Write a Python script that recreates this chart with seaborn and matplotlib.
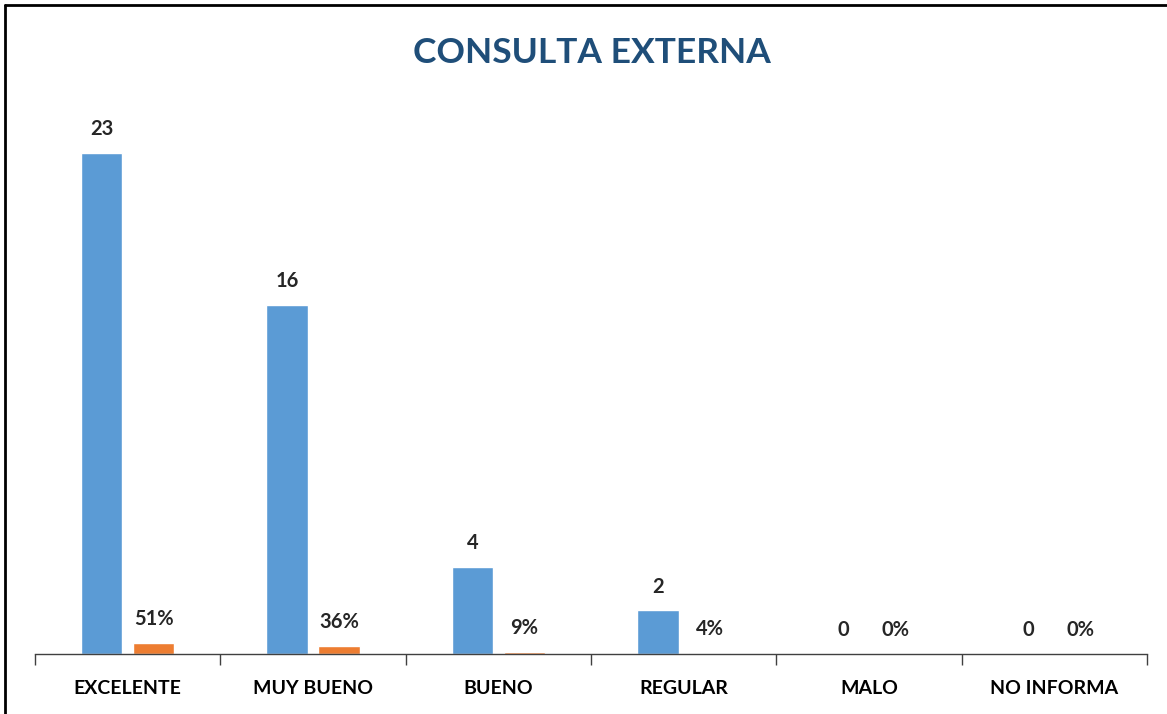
import matplotlib
matplotlib.use("Agg")
import matplotlib.pyplot as plt
import seaborn as sns
import pandas as pd
from matplotlib.lines import Line2D

categories = ["EXCELENTE", "MUY BUENO", "BUENO", "REGULAR", "MALO", "NO INFORMA"]
counts = [23, 16, 4, 2, 0, 0]
fractions = [0.51, 0.36, 0.09, 0.04, 0.0, 0.0]
count_labels = ["23", "16", "4", "2", "0", "0"]
pct_labels = ["51%", "36%", "9%", "4%", "0%", "0%"]
title = "CONSULTA EXTERNA"

sns.set_theme(style="white")
plt.rcParams['font.family'] = ['Lato', 'DejaVu Sans']

df = pd.DataFrame({
    "cat": categories * 2,
    "val": counts + fractions,
    "serie": ["Cantidad"] * len(categories) + ["Porcentaje"] * len(categories),
})

fig = plt.figure(figsize=(11.67, 7.14), dpi=100)
ax = fig.add_axes([0.030, 0.084, 0.953, 0.763])
sns.barplot(data=df, x="cat", y="val", hue="serie", order=categories,
            palette=["#5B9BD5", "#ED7D31"], width=0.56, gap=0.2,
            legend=False, ax=ax, saturation=1)

ax.set_ylim(0, 25)
ax.set_xlim(-0.5, len(categories) - 0.5)
ax.set_xlabel("")
ax.set_ylabel("")
ax.set_yticks([])
for s in ["top", "right", "left"]:
    ax.spines[s].set_visible(False)
ax.spines["bottom"].set_color("#404040")
ax.spines["bottom"].set_linewidth(1.0)

ax.set_xticks(range(len(categories)))
ax.set_xticklabels(categories, fontsize=14, fontweight="bold", color="black")
ax.tick_params(axis="x", which="major", length=0, pad=19)
ax.set_xticks([i - 0.5 for i in range(len(categories) + 1)], minor=True)
ax.tick_params(axis="x", which="minor", bottom=True, length=8, width=1.0,
               color="#404040", direction="out")

containers = ax.containers
ax.bar_label(containers[0], labels=count_labels, padding=10, fontsize=14.5, fontweight="bold")
ax.bar_label(containers[1], labels=pct_labels, padding=10, fontsize=14.5, fontweight="bold")

fig.text(0.507, 0.926, title, ha="center", va="center", fontsize=25.5,
         fontweight="bold", color="#1F4E79")

# figure border (top and left visible)
fig.add_artist(Line2D([0.0045, 0.0045], [0.0, 0.9935], transform=fig.transFigure, color="black", lw=2))
fig.add_artist(Line2D([0.0045, 1.0], [0.9935, 0.9935], transform=fig.transFigure, color="black", lw=2))

fig.savefig("out.png", dpi=100)
